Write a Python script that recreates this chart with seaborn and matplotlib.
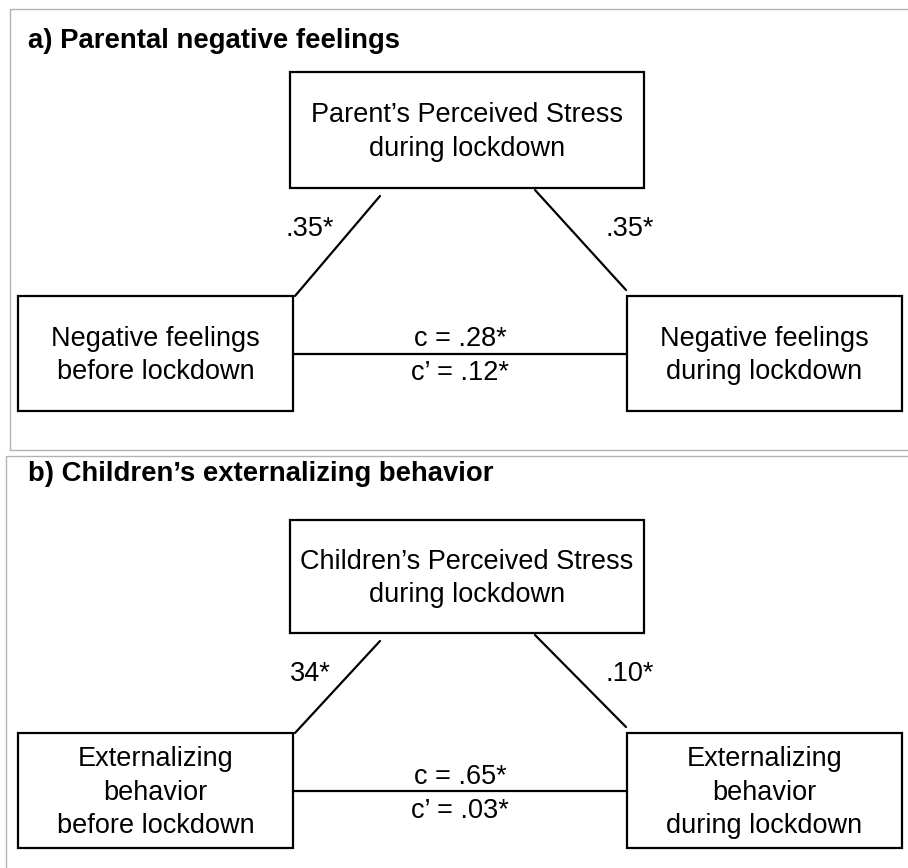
import pandas as pd
import seaborn as sns
import matplotlib.pyplot as plt
from matplotlib.patches import Rectangle

sns.set_theme(style="white")
plt.rcParams['font.family'] = ['Liberation Sans', 'DejaVu Sans']
plt.rcParams['text.color'] = 'black'

# panel titles and node labels
titles = ['a) Parental negative feelings', 'b) Children\u2019s externalizing behavior']
mediators = ['Parent\u2019s Perceived Stress\nduring lockdown',
             'Children\u2019s Perceived Stress\nduring lockdown']
predictors = ['Negative feelings\nbefore lockdown',
              'Externalizing\nbehavior\nbefore lockdown']
outcomes = ['Negative feelings\nduring lockdown',
            'Externalizing\nbehavior\nduring lockdown']
# path coefficients
a_paths = ['.35*', '34*']
b_paths = ['.35*', '.10*']
c_total = ['c = .28*', 'c = .65*']
c_direct = ['c\u2019 = .12*', 'c\u2019 = .03*']

W, H = 908, 868
fig = plt.figure(figsize=(W / 100, H / 100), dpi=100)
ax = fig.add_axes([0, 0, 1, 1])

# panel layout in pixels
layouts = [
    dict(ptop=9, pbot=450, pleft=10, ty=41, mt=72, mb=188, st=296, sb=411),
    dict(ptop=456, pbot=880, pleft=6, ty=474, mt=520, mb=633, st=733, sb=848),
]
FS = 19.5

segs = []
for i, L in enumerate(layouts):
    ax.add_patch(Rectangle((L['pleft'], L['ptop']), W + 10 - L['pleft'], L['pbot'] - L['ptop'],
                           fill=False, ec='#b3b3b3', lw=1.0))
    ax.text(28, L['ty'], titles[i], fontsize=19.8, fontweight='bold', ha='left', va='center')

    # boxes
    boxes = [(290, L['mt'], 644, L['mb'], mediators[i]),
             (18, L['st'], 293, L['sb'], predictors[i]),
             (627, L['st'], 902, L['sb'], outcomes[i])]
    for x0, y0, x1, y1, lab in boxes:
        ax.add_patch(Rectangle((x0, y0), x1 - x0, y1 - y0, fill=False, ec='black', lw=1.6))
        ax.text((x0 + x1) / 2, (y0 + y1) / 2 + 2, lab, fontsize=FS, ha='center', va='center',
                linespacing=1.36)

    mid = (L['st'] + L['sb']) / 2
    segs += [
        dict(seg=f'a{i}', x=380, y=L['mb'] + 8), dict(seg=f'a{i}', x=295, y=L['st']),
        dict(seg=f'b{i}', x=535, y=L['mb'] + 2), dict(seg=f'b{i}', x=626, y=L['st'] - 6),
        dict(seg=f'c{i}', x=293, y=mid), dict(seg=f'c{i}', x=627, y=mid),
    ]
    lab_y = L['mb'] + 41
    ax.text(310, lab_y, a_paths[i], fontsize=FS, ha='center', va='center')
    ax.text(630, lab_y, b_paths[i], fontsize=FS, ha='center', va='center')
    ax.text(460, mid - 14, c_total[i], fontsize=FS, ha='center', va='center')
    ax.text(460, mid + 20, c_direct[i], fontsize=FS, ha='center', va='center')

df = pd.DataFrame(segs)
sns.lineplot(data=df, x='x', y='y', units='seg', estimator=None, sort=False,
             color='black', lw=1.6, ax=ax, legend=False)
ax.set_xlim(0, W)
ax.set_ylim(H, 0)
ax.axis('off')

fig.savefig('out.png', dpi=100)
